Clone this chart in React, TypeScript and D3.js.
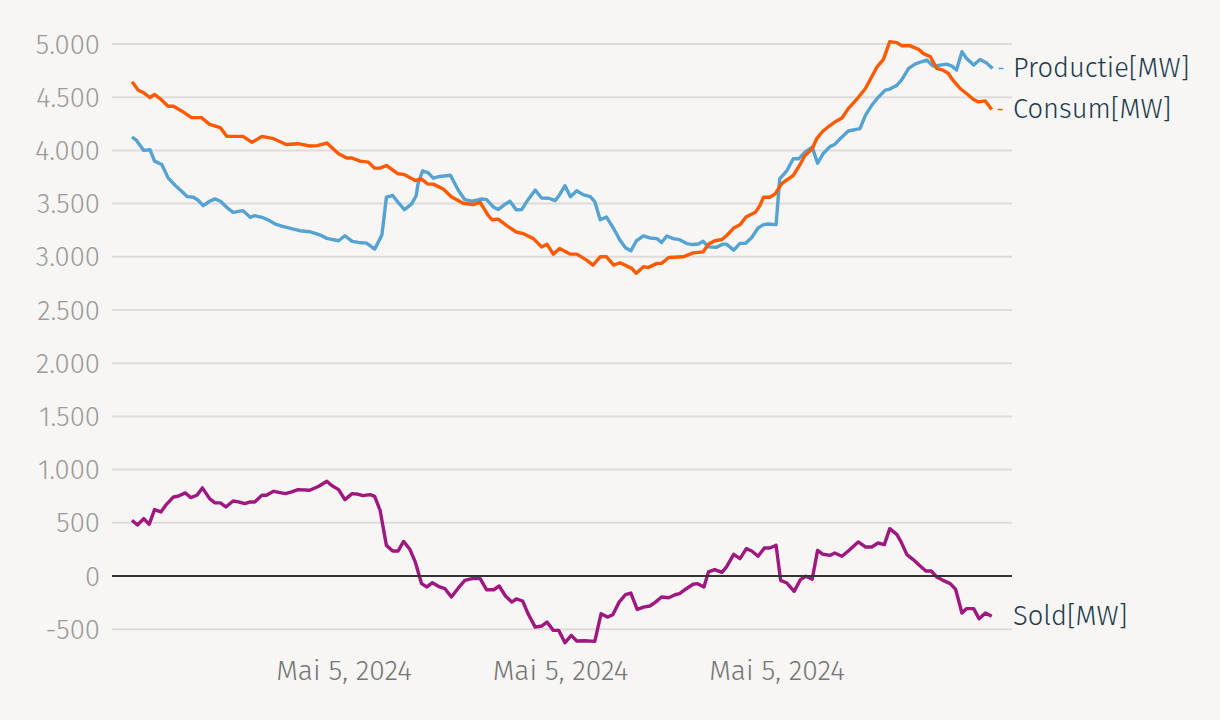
import React from "react";
import * as d3 from "d3";

// Time in minutes of the day (May 5, 2024)
const productieTimes = [485,490,498,505,510,518,525,533,540,546,553,558,564,571,577,583,590,597,608,616,621,631,636,644,651,664,671,682,693,701,714,721,729,736,745,754,762,767,774,780,787,795,800,802,807,813,819,826,838,847,854,862,873,878,886,891,899,904,911,917,924,932,939,947,954,959,965,971,978,985,993,998,1004,1011,1019,1026,1032,1038,1044,1052,1059,1067,1072,1078,1085,1092,1100,1107,1113,1118,1124,1133,1140,1144,1152,1159,1165,1172,1179,1185,1190,1199,1203,1211,1218,1224,1231,1239,1245,1251,1259,1264,1270,1279,1292,1298,1305,1312,1320,1325,1333,1338,1346,1353,1360,1366,1373,1381,1388,1394,1399,1405,1410,1418,1425,1432,1439];
const productieValues = [4126,4094,4000,4006,3899,3868,3742,3670,3616,3566,3560,3534,3481,3522,3544,3522,3465,3418,3434,3371,3387,3365,3346,3308,3289,3261,3245,3236,3207,3173,3151,3198,3145,3135,3129,3072,3204,3560,3576,3512,3443,3497,3574,3683,3807,3792,3739,3755,3767,3621,3537,3522,3543,3537,3466,3444,3497,3522,3441,3444,3537,3627,3553,3550,3528,3584,3668,3565,3621,3584,3565,3519,3348,3373,3264,3155,3084,3056,3149,3196,3177,3171,3134,3196,3171,3161,3124,3115,3120,3146,3093,3090,3119,3119,3063,3126,3126,3182,3270,3302,3308,3302,3733,3811,3921,3921,3984,4031,3880,3968,4038,4056,4110,4182,4204,4330,4424,4497,4566,4576,4613,4660,4770,4811,4833,4849,4792,4802,4811,4792,4755,4928,4865,4802,4855,4824,4770];

const consumTimes = [485,492,498,505,510,516,525,531,540,551,562,571,583,590,608,618,629,642,656,669,682,690,701,714,723,729,738,747,754,760,767,780,786,799,806,813,819,830,839,852,863,871,880,884,891,900,911,919,930,939,945,952,959,971,978,989,996,1004,1011,1019,1026,1039,1044,1052,1057,1067,1072,1080,1096,1107,1118,1124,1131,1139,1144,1152,1159,1166,1176,1181,1185,1192,1198,1205,1211,1218,1226,1231,1239,1244,1251,1259,1266,1272,1279,1290,1298,1305,1311,1318,1325,1333,1338,1347,1357,1362,1370,1377,1384,1390,1395,1403,1410,1418,1423,1431,1438];
const consumValues = [4645,4566,4541,4497,4526,4487,4415,4415,4371,4308,4308,4245,4214,4132,4132,4075,4132,4110,4056,4063,4041,4045,4069,3968,3928,3928,3899,3890,3833,3833,3858,3780,3775,3717,3730,3683,3683,3637,3565,3503,3491,3512,3388,3348,3354,3295,3233,3217,3171,3093,3118,3025,3078,3025,3025,2969,2922,3000,3000,2922,2944,2891,2845,2907,2898,2938,2938,2994,3000,3037,3046,3118,3151,3163,3198,3270,3302,3377,3418,3481,3560,3560,3591,3685,3723,3764,3874,3953,4016,4110,4182,4236,4277,4305,4393,4497,4582,4692,4786,4855,5022,5013,4984,4984,4950,4912,4880,4770,4755,4723,4660,4582,4535,4478,4456,4465,4384];

const soldTimes = [485,491,498,504,510,517,523,531,536,544,550,557,563,571,577,583,589,597,603,610,616,621,629,634,642,655,662,669,682,692,701,706,714,721,729,736,741,749,754,760,767,774,780,786,793,799,806,812,818,826,832,839,847,854,862,871,878,886,892,899,906,911,918,924,932,939,945,952,958,965,972,978,987,998,1005,1012,1018,1025,1032,1038,1045,1052,1059,1065,1072,1080,1087,1092,1099,1107,1112,1119,1124,1131,1139,1144,1152,1159,1166,1172,1179,1186,1192,1199,1204,1211,1219,1226,1232,1239,1245,1251,1259,1264,1272,1279,1290,1298,1305,1312,1319,1325,1333,1338,1344,1351,1359,1365,1371,1377,1384,1392,1398,1405,1410,1418,1424,1431,1438];
const soldValues = [524,480,539,486,624,602,671,743,749,781,737,759,828,727,687,687,649,705,696,680,696,696,759,759,796,774,790,812,806,843,890,853,812,718,774,768,756,765,749,618,288,235,235,325,251,132,-72,-103,-63,-103,-119,-198,-110,-41,-25,-25,-129,-129,-94,-188,-245,-216,-235,-354,-480,-470,-433,-511,-511,-627,-558,-611,-608,-614,-354,-386,-364,-245,-176,-160,-314,-292,-282,-248,-198,-204,-176,-166,-122,-78,-72,-103,38,60,34,85,204,163,257,235,185,263,263,288,-41,-66,-144,-34,-3,-31,241,204,194,216,185,235,320,273,273,310,295,445,389,313,201,154,91,47,47,-9,-41,-72,-125,-348,-307,-307,-401,-348,-379];

const yTicks = [-500, 0, 500, 1000, 1500, 2000, 2500, 3000, 3500, 4000, 4500, 5000];
const xTicks = [720, 960, 1200];
const xTickLabel = "Mai 5, 2024";
const seriesNames = ["Productie[MW]", "Consum[MW]", "Sold[MW]"];
const seriesColors = ["#55a3d2", "#ff5a00", "#a0177f"];

const W = 1220;
const H = 720;
const FONT = "'Fira Sans', Lato, 'Noto Sans', sans-serif";

function fmt(v: number) {
  const s = Math.abs(v).toString().replace(/\B(?=(\d{3})+(?!\d))/g, ".");
  return v < 0 ? "-" + s : s;
}

export default function App() {
  const x = d3.scaleLinear().domain([480, 1440]).range([127.5, 993.5]);
  const y = d3.scaleLinear().domain([0, 5000]).range([576, 44]);
  const gridX0 = 112;
  const gridX1 = 1012;

  const series = [
    { t: productieTimes, v: productieValues },
    { t: consumTimes, v: consumValues },
    { t: soldTimes, v: soldValues },
  ];
  const line = (t: number[], v: number[]) =>
    d3
      .line<number>()
      .x((_, i) => x(t[i]))
      .y((d) => y(d))(v) || "";

  return (
    <svg
      width={W}
      height={H}
      style={{ position: "absolute", left: 0, top: 0, display: "block", background: "#f7f6f4" }}
      fontFamily={FONT}
    >
      <rect x={0} y={0} width={W} height={H} fill="#f7f6f4" />
      {yTicks.map((t) => (
        <g key={t}>
          {t !== 0 && (
            <line x1={gridX0} x2={gridX1} y1={y(t)} y2={y(t)} stroke="#dddcda" strokeWidth={2} />
          )}
          <text
            x={100}
            y={y(t)}
            dy="0.35em"
            textAnchor="end"
            fill="#9b9b9b"
            fontSize={27.5}
            fontWeight={300}
          >
            {fmt(t)}
          </text>
        </g>
      ))}
      {xTicks.map((t) => (
        <text key={t} x={x(t)} y={680} textAnchor="middle" fill="#767676" fontSize={28.2} fontWeight={300}>
          {xTickLabel}
        </text>
      ))}
      {series.map((s, i) => (
        <path
          key={i}
          d={line(s.t, s.v)}
          fill="none"
          stroke={seriesColors[i]}
          strokeWidth={3.4}
          strokeLinejoin="round"
        />
      ))}
      <line x1={gridX0} x2={gridX1} y1={y(0)} y2={y(0)} stroke="#333333" strokeWidth={2} />
      {series.map((s, i) => {
        const lastV = s.v[s.v.length - 1];
        const lastT = s.t[s.t.length - 1];
        const ly = y(lastV);
        return (
          <g key={"lab" + i}>
            {i < 2 && (
              <line
                x1={x(lastT) + 6}
                x2={x(lastT) + 11}
                y1={ly}
                y2={ly}
                stroke={seriesColors[i]}
                strokeWidth={1.5}
              />
            )}
            <text x={1013} y={ly} dy="0.32em" fill="#1d3a4c" fontSize={27.3} fontWeight={300}>
              {seriesNames[i]}
            </text>
          </g>
        );
      })}
    </svg>
  );
}
